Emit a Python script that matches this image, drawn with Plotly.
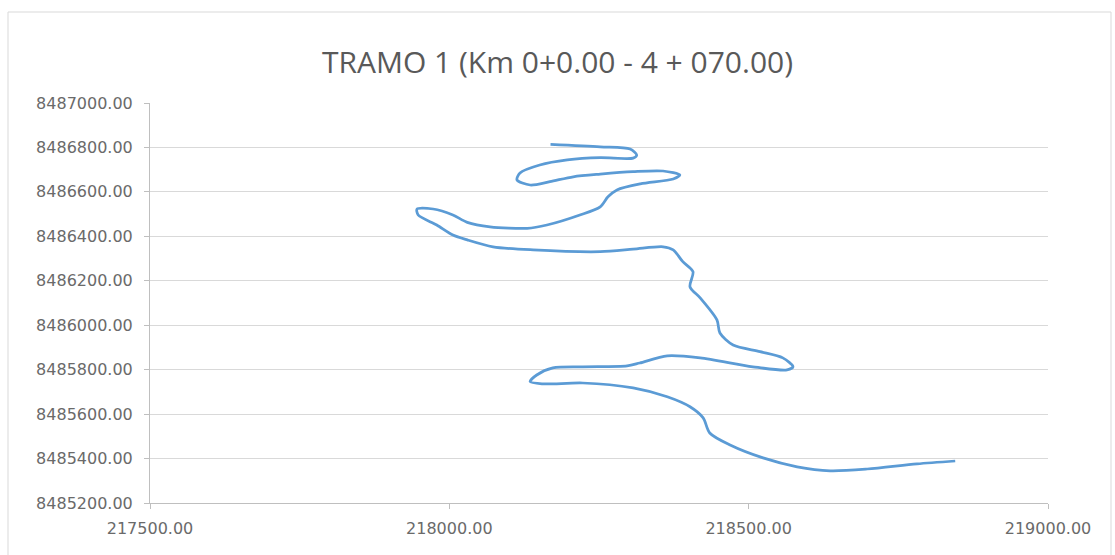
import plotly.graph_objects as go

# Alignment coordinates (easting / northing) of the road section, in path order
easting = [
    218169, 218252, 218302, 218313, 218307, 218252, 218197, 218151, 218118, 218113,
    218135, 218168, 218207, 218252, 218307, 218357, 218385, 218374, 218319, 218280,
    218265, 218252, 218218, 218163, 218130, 218068, 218030, 218006, 217973, 217946,
    217948, 217979, 218006, 218030, 218073, 218140, 218252, 218307, 218357, 218374,
    218390, 218407, 218402, 218419, 218447, 218452, 218474, 218519, 218557, 218574,
    218564, 218507, 218419, 218364, 218318, 218297, 218223, 218173, 218146, 218135,
    218156, 218223, 218307, 218364, 218402, 218424, 218435, 218469, 218524, 218581,
    218636, 218698, 218781, 218845,
]
northing = [
    8486814, 8486803, 8486793, 8486766, 8486752, 8486754, 8486744, 8486721, 8486685, 8486654,
    8486631, 8486646, 8486668, 8486680, 8486691, 8486694, 8486676, 8486658, 8486636, 8486609,
    8486578, 8486533, 8486496, 8486451, 8486436, 8486443, 8486463, 8486496, 8486523, 8486523,
    8486496, 8486451, 8486406, 8486384, 8486353, 8486339, 8486331, 8486342, 8486353, 8486339,
    8486286, 8486241, 8486173, 8486123, 8486024, 8485965, 8485911, 8485881, 8485853, 8485813,
    8485799, 8485813, 8485853, 8485862, 8485830, 8485817, 8485813, 8485808, 8485776, 8485746,
    8485736, 8485740, 8485718, 8485678, 8485633, 8485583, 8485515, 8485461, 8485403, 8485363,
    8485345, 8485353, 8485376, 8485389,
]

x_ticks = [217500, 218000, 218500, 219000]
y_ticks = list(range(8485200, 8487001, 200))

title_text = "TRAMO 1 (Km 0+0.00 - 4 + 070.00)"

W, H = 1115, 555
ML, MR, MT, MB = 150, 67, 103, 52
PW, PH = W - ML - MR, H - MT - MB

fig = go.Figure()
fig.add_trace(go.Scatter(
    x=easting, y=northing, mode="lines",
    line=dict(color="#5b9bd5", width=2.75, shape="spline", smoothing=0.8),
    hoverinfo="x+y", showlegend=False,
))

label_font = dict(family="DejaVu Sans, sans-serif", size=16, color="#6a6a6a")

fig.update_layout(
    width=W, height=H,
    margin=dict(l=ML, r=MR, t=MT, b=MB),
    paper_bgcolor="white", plot_bgcolor="white",
    title=dict(text=title_text, x=0.5, xanchor="center", y=1 - 62 / H, yanchor="middle",
               font=dict(family="Open Sans, Liberation Sans, sans-serif", size=30, color="#595959")),
    xaxis=dict(
        range=[217500, 219000], tickvals=x_ticks,
        ticktext=[f"{v:.2f}" for v in x_ticks],
        showgrid=False, zeroline=False,
        showline=True, linecolor="#bfbfbf", linewidth=1,
        ticks="outside", ticklen=5, tickcolor="#bfbfbf",
        tickfont=label_font, ticklabelstandoff=6,
    ),
    yaxis=dict(
        range=[8485200, 8487000], tickvals=y_ticks,
        ticktext=[f"{v:.2f}" for v in y_ticks],
        showgrid=True, gridcolor="#d9d9d9", gridwidth=1, zeroline=False,
        showline=True, linecolor="#bfbfbf", linewidth=1,
        ticks="outside", ticklen=5, tickcolor="#bfbfbf",
        tickfont=label_font, ticklabelstandoff=8,
    ),
    shapes=[dict(
        type="rect", xref="paper", yref="paper",
        x0=(8 - ML) / PW, x1=(1111 - ML) / PW,
        y0=(H - MB - 562) / PH, y1=(H - MB - 12) / PH,
        line=dict(color="#d9d9d9", width=1), fillcolor="rgba(0,0,0,0)", layer="below",
    )],
)

fig.write_html("out.html")
